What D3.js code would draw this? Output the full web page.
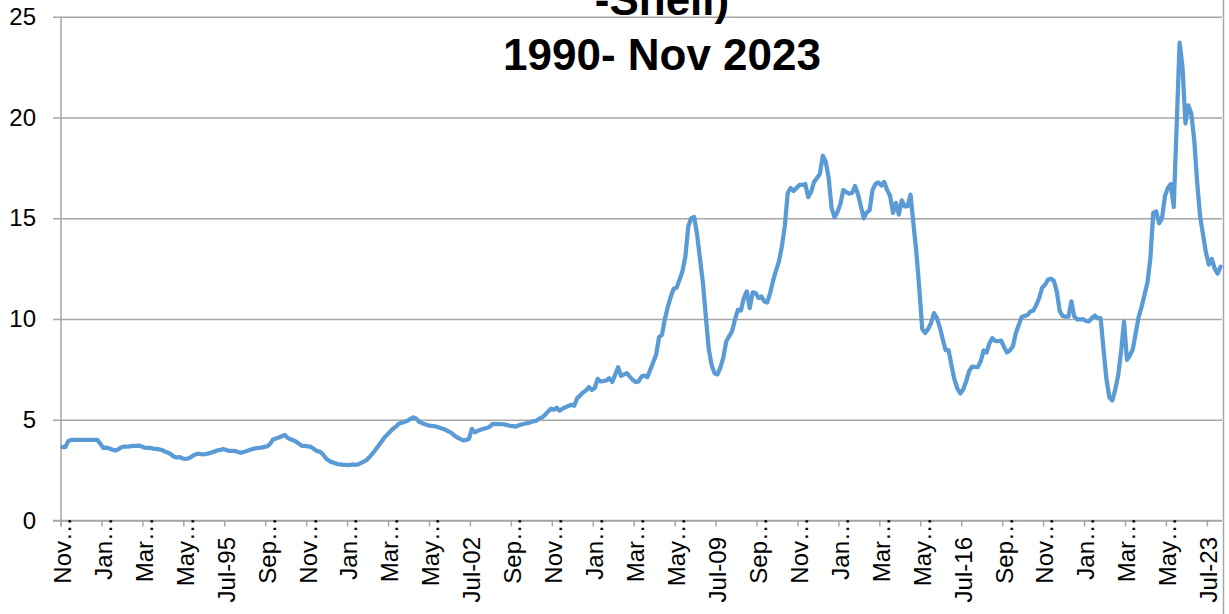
<!DOCTYPE html>
<html>
<head>
<meta charset="utf-8">
<script src="https://cdn.jsdelivr.net/npm/d3@7.9.0/dist/d3.min.js"></script>
<style>
  html, body { margin: 0; padding: 0; background: #fff; overflow: hidden; }
  svg { display: block; font-family: 'Liberation Sans', Arial, sans-serif; }
</style>
</head>
<body>
<div id="chart"></div>
<script>
// title as it shows in the picture (first line is cut off at the top)
const titleLines = ['-Shell)', '1990- Nov 2023'];

// monthly values, Nov 1990 .. Nov 2023, one row per calendar year
const ratio = [
  3.64, 3.64,                                                                   // 1990 Nov-Dec
  3.95, 4.0, 4.0, 4.0, 4.0, 4.0, 4.0, 4.0, 4.0, 4.0, 4.0, 3.8,                  // 1991
  3.6, 3.62, 3.57, 3.52, 3.47, 3.52, 3.62, 3.67, 3.66, 3.68, 3.7, 3.7,          // 1992
  3.72, 3.68, 3.62, 3.6, 3.6, 3.57, 3.55, 3.53, 3.5, 3.42, 3.37, 3.3,           // 1993
  3.18, 3.12, 3.15, 3.08, 3.05, 3.08, 3.15, 3.25, 3.3, 3.3, 3.28, 3.3,          // 1994
  3.33, 3.38, 3.42, 3.48, 3.5, 3.55, 3.5, 3.45, 3.45, 3.45, 3.4, 3.37,          // 1995
  3.4, 3.45, 3.5, 3.55, 3.58, 3.6, 3.62, 3.65, 3.68, 3.8, 4.02, 4.07,           // 1996
  4.12, 4.18, 4.25, 4.1, 4.03, 3.98, 3.9, 3.8, 3.7, 3.7, 3.68, 3.65,            // 1997
  3.55, 3.45, 3.42, 3.3, 3.1, 2.98, 2.9, 2.85, 2.8, 2.78, 2.76, 2.76,           // 1998
  2.75, 2.78, 2.76, 2.78, 2.85, 2.92, 3.0, 3.15, 3.32, 3.5, 3.7, 3.9,           // 1999
  4.1, 4.25, 4.4, 4.55, 4.65, 4.8, 4.85, 4.9, 4.95, 5.05, 5.12, 5.05,           // 2000
  4.9, 4.83, 4.78, 4.72, 4.7, 4.68, 4.65, 4.6, 4.55, 4.5, 4.42, 4.35,           // 2001
  4.22, 4.12, 4.05, 3.97, 4.0, 4.05, 4.55, 4.38, 4.45, 4.5, 4.56, 4.58,         // 2002
  4.65, 4.78, 4.8, 4.78, 4.78, 4.77, 4.74, 4.7, 4.68, 4.66, 4.72, 4.76,         // 2003
  4.8, 4.83, 4.87, 4.92, 4.95, 5.05, 5.12, 5.24, 5.4, 5.55, 5.5, 5.6,           // 2004
  5.45, 5.55, 5.62, 5.68, 5.74, 5.69, 6.07, 6.2, 6.35, 6.45, 6.62, 6.48,        // 2005
  6.57, 7.03, 6.9, 6.92, 6.95, 7.06, 6.87, 7.23, 7.61, 7.18, 7.25, 7.31,        // 2006
  7.14, 6.98, 6.87, 6.9, 7.14, 7.19, 7.11, 7.48, 7.85, 8.22, 9.1, 9.21,         // 2007
  10.0, 10.6, 11.1, 11.5, 11.55, 11.95, 12.36, 13.1, 14.6, 15.0, 15.06, 14.2,   // 2008
  13.0, 11.8, 10.12, 8.5, 7.7, 7.3, 7.25, 7.6, 8.1, 8.9, 9.15, 9.4,             // 2009
  10.0, 10.46, 10.42, 11.04, 11.37, 10.54, 11.32, 11.29, 11.04, 11.12, 10.87, 10.82, // 2010
  11.3, 11.9, 12.4, 12.86, 13.6, 14.6, 16.25, 16.5, 16.35, 16.5, 16.65, 16.65,  // 2011
  16.7, 16.05, 16.3, 16.8, 17.0, 17.2, 18.1, 17.8, 17.0, 15.5, 15.05, 15.3,     // 2012
  15.7, 16.4, 16.3, 16.22, 16.25, 16.6, 16.2, 15.6, 15.0, 15.28, 15.4, 16.4,    // 2013
  16.7, 16.78, 16.62, 16.8, 16.4, 16.12, 15.26, 15.76, 15.18, 15.89, 15.59, 15.6, // 2014
  16.17, 14.7, 13.3, 11.5, 9.5, 9.3, 9.5, 9.8, 10.29, 10.04, 9.6, 9.0,          // 2015
  8.45, 8.45, 7.7, 7.0, 6.55, 6.3, 6.5, 6.9, 7.4, 7.64, 7.62, 7.61,             // 2016
  7.9, 8.44, 8.34, 8.8, 9.05, 8.9, 8.9, 8.93, 8.6, 8.34, 8.45, 8.65,            // 2017
  9.3, 9.7, 10.1, 10.15, 10.2, 10.37, 10.42, 10.7, 11.04, 11.55, 11.7, 11.95,   // 2018
  12.0, 11.9, 11.37, 10.4, 10.15, 10.12, 10.12, 10.87, 10.12, 9.98, 9.98, 9.99, // 2019
  9.9, 9.88, 10.05, 10.17, 10.04, 10.04, 8.47, 7.0, 6.1, 5.95, 6.5, 7.2,        // 2020
  8.4, 9.88, 7.97, 8.2, 8.5, 9.3, 10.1, 10.6, 11.2, 11.8, 13.0, 15.26,          // 2021
  15.34, 14.75, 15.0, 16.1, 16.5, 16.7, 15.56, 19.6, 23.71, 22.5, 19.7, 20.6,   // 2022
  20.2, 18.9, 16.8, 15.1, 14.2, 13.3, 12.7, 12.98, 12.5, 12.25, 12.6            // 2023 Jan-Nov
];

// x labels every 14 months, as Excel shows them (most are truncated)
const tickLabels = [
  'Nov…', 'Jan…', 'Mar…', 'May…', 'Jul-95', 'Sep…', 'Nov…', 'Jan…', 'Mar…', 'May…',
  'Jul-02', 'Sep…', 'Nov…', 'Jan…', 'Mar…', 'May…', 'Jul-09', 'Sep…', 'Nov…', 'Jan…',
  'Mar…', 'May…', 'Jul-16', 'Sep…', 'Nov…', 'Jan…', 'Mar…', 'May…', 'Jul-23'
];
const tickEvery = 14;
const yTicks = [0, 5, 10, 15, 20, 25];

const width = 1229;
const height = 614;
const plot = { left: 61, right: 1222, top: 16.7, bottom: 520.5 };
const gridColor = '#a6a6a6';

const months = d3.timeMonth.range(new Date(1990, 10, 1), new Date(2023, 11, 1));
const data = months.map((date, i) => ({ i, date, value: ratio[i] }));

const svg = d3.select('#chart')
  .append('svg')
  .attr('width', width)
  .attr('height', height);

const x = d3.scaleBand()
  .domain(data.map(d => d.i))
  .range([plot.left, plot.right]);

const y = d3.scaleLinear()
  .domain([0, 25])
  .range([plot.bottom, plot.top]);

// horizontal gridlines
const grid = svg.append('g')
  .attr('transform', `translate(${plot.left},0)`)
  .call(d3.axisLeft(y).tickValues(yTicks).tickSize(-(plot.right - plot.left)).tickFormat(''));
grid.select('.domain').remove();
grid.selectAll('line').attr('stroke', gridColor).attr('stroke-width', 1.5);

// y axis
const yAxis = svg.append('g')
  .attr('transform', `translate(${plot.left},0)`)
  .call(d3.axisLeft(y).tickValues(yTicks).tickSize(8).tickPadding(17));
yAxis.select('.domain')
  .attr('stroke', gridColor).attr('stroke-width', 1.5)
  .attr('d', `M0,${plot.top}V${plot.bottom + 6}`);
yAxis.selectAll('line').attr('stroke', gridColor).attr('stroke-width', 1.5);
yAxis.selectAll('text')
  .attr('fill', '#000')
  .style('font-size', '24px');

// right edge of the chart area
svg.append('line')
  .attr('x1', 1223.5).attr('x2', 1223.5)
  .attr('y1', 0).attr('y2', height)
  .attr('stroke', gridColor).attr('stroke-width', 1.5);

// x axis
const tickData = tickLabels.map((label, k) => ({ label, i: k * tickEvery }));
const xAxis = svg.append('g');
xAxis.append('line')
  .attr('x1', plot.left - 8).attr('x2', plot.right)
  .attr('y1', y(0)).attr('y2', y(0))
  .attr('stroke', gridColor).attr('stroke-width', 1.5);
xAxis.selectAll('.tick-mark')
  .data(tickData)
  .join('line')
  .attr('class', 'tick-mark')
  .attr('x1', d => x(d.i)).attr('x2', d => x(d.i))
  .attr('y1', y(0)).attr('y2', y(0) + 6)
  .attr('stroke', gridColor).attr('stroke-width', 1.5);
xAxis.selectAll('.tick-label')
  .data(tickData)
  .join('text')
  .attr('class', 'tick-label')
  .attr('transform', d => {
    const cx = x(d.i) + x.bandwidth() / 2;
    const top = d.label.endsWith('…') ? 517 : 537;
    return `translate(${cx},${top}) rotate(-90)`;
  })
  .attr('dy', '0.35em')
  .attr('text-anchor', 'end')
  .style('font-size', '24px')
  .text(d => d.label);

// series
const line = d3.line()
  .x(d => x(d.i) + x.bandwidth() / 2)
  .y(d => y(d.value));

svg.append('path')
  .datum(data)
  .attr('fill', 'none')
  .attr('stroke', '#5b9bd5')
  .attr('stroke-width', 4.25)
  .attr('stroke-linejoin', 'round')
  .attr('stroke-linecap', 'round')
  .attr('d', line);

// title
svg.append('text')
  .attr('x', 662).attr('y', 15)
  .attr('text-anchor', 'middle')
  .style('font-size', '44px').style('font-weight', 'bold')
  .text(titleLines[0]);
svg.append('text')
  .attr('x', 662).attr('y', 70)
  .attr('text-anchor', 'middle')
  .style('font-size', '44px').style('font-weight', 'bold')
  .text(titleLines[1]);
</script>
</body>
</html>
